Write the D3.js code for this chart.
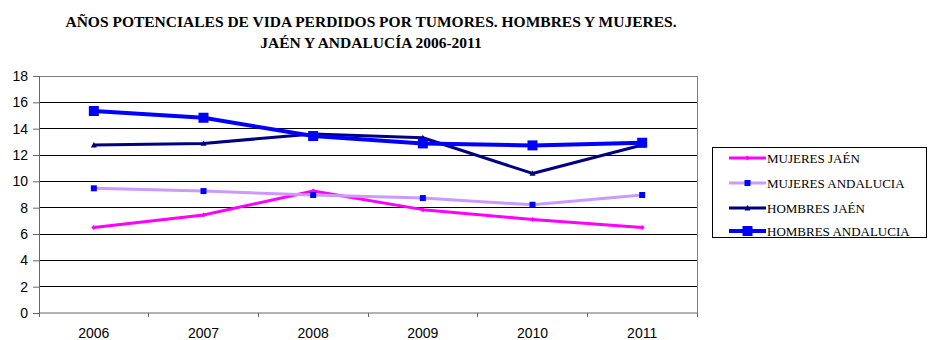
<!DOCTYPE html>
<html>
<head>
<meta charset="utf-8">
<script src="https://cdn.jsdelivr.net/npm/d3@7"></script>
<style>
  html, body { margin: 0; padding: 0; background: #fff; }
  svg { display: block; }
</style>
</head>
<body>
<svg id="chart" width="928" height="340"></svg>
<script>
const years = ["2006", "2007", "2008", "2009", "2010", "2011"];
const yTicks = [0, 2, 4, 6, 8, 10, 12, 14, 16, 18];

const mujeresJaen = [6.5, 7.44, 9.26, 7.85, 7.11, 6.5];
const mujeresAndalucia = [9.47, 9.26, 8.96, 8.73, 8.22, 8.96];
const hombresJaen = [12.76, 12.88, 13.6, 13.31, 10.6, 12.76];
const hombresAndalucia = [15.34, 14.83, 13.44, 12.88, 12.73, 12.93];

const seriesNames = ["MUJERES JAÉN", "MUJERES ANDALUCIA", "HOMBRES JAÉN", "HOMBRES ANDALUCIA"];

const series = [
  { name: seriesNames[0], values: mujeresJaen, color: "#FF00FF", width: 3, marker: "diamond", mColor: "#FF00FF", mSize: 5 },
  { name: seriesNames[1], values: mujeresAndalucia, color: "#CC99FF", width: 3, marker: "square", mColor: "#0000FF", mSize: 6 },
  { name: seriesNames[2], values: hombresJaen, color: "#000080", width: 3, marker: "triangle", mColor: "#000080", mSize: 6 },
  { name: seriesNames[3], values: hombresAndalucia, color: "#0000FF", width: 4, marker: "square", mColor: "#0000FF", mSize: 10 }
];

const svg = d3.select("#chart");
const plot = { left: 39, top: 76, right: 697, bottom: 313 };

const x = d3.scaleBand().domain(years).range([plot.left, plot.right]);
const y = d3.scaleLinear().domain([0, 18]).range([plot.bottom, plot.top]);

// Title
const title = svg.append("text")
  .attr("text-anchor", "middle")
  .attr("font-family", "'Liberation Serif', 'Times New Roman', serif")
  .attr("font-weight", "bold")
  .attr("font-size", 15.5)
  .attr("fill", "#000");
title.append("tspan").attr("x", 371).attr("y", 27)
  .text("AÑOS POTENCIALES DE VIDA PERDIDOS POR TUMORES. HOMBRES Y MUJERES.");
title.append("tspan").attr("x", 371).attr("y", 48)
  .text("JAÉN Y ANDALUCÍA 2006-2011");

// Gridlines
svg.append("g")
  .selectAll("line")
  .data(yTicks.filter(d => d > 0 && d < 18))
  .join("line")
  .attr("x1", plot.left).attr("x2", plot.right)
  .attr("y1", d => y(d)).attr("y2", d => y(d))
  .attr("stroke", "#000").attr("stroke-width", 1)
  .attr("shape-rendering", "crispEdges");

// Plot area frame (top and right)
svg.append("path")
  .attr("d", `M${plot.left},${plot.top}H${plot.right}V${plot.bottom}`)
  .attr("fill", "none").attr("stroke", "#808080").attr("stroke-width", 1)
  .attr("shape-rendering", "crispEdges");

// Y axis
const yAxis = svg.append("g")
  .attr("transform", `translate(${plot.left},0)`)
  .call(d3.axisLeft(y).tickValues(yTicks).tickSize(6).tickPadding(5));
yAxis.select(".domain").attr("stroke", "#666");
yAxis.selectAll(".tick line").attr("stroke", "#666");
yAxis.selectAll("text")
  .attr("font-family", "'Liberation Sans', Arial, sans-serif")
  .attr("font-size", 14).attr("fill", "#000");

// X axis: ticks at category boundaries
const xAxis = svg.append("g")
  .attr("transform", `translate(0,${plot.bottom})`)
  .call(d3.axisBottom(x).tickSize(0).tickPadding(15));
xAxis.select(".domain").attr("stroke", "#666").attr("d", `M${plot.left},0H${plot.right}`);
xAxis.selectAll("text")
  .attr("font-family", "'Liberation Sans', Arial, sans-serif")
  .attr("font-size", 14).attr("fill", "#000");
xAxis.append("g")
  .selectAll("line")
  .data(years.concat(["end"]))
  .join("line")
  .attr("x1", (d, i) => plot.left + i * x.step())
  .attr("x2", (d, i) => plot.left + i * x.step())
  .attr("y1", 0).attr("y2", 4)
  .attr("stroke", "#666")
  .attr("shape-rendering", "crispEdges");

// Marker shapes
function markerPath(type, size) {
  const s = size / 2;
  if (type === "square") return `M${-s},${-s}H${s}V${s}H${-s}Z`;
  if (type === "diamond") return `M0,${-s}L${s},0L0,${s}L${-s},0Z`;
  if (type === "triangle") return `M0,${-s}L${s},${s * 0.8}L${-s},${s * 0.8}Z`;
  return "";
}

const line = d3.line()
  .x((d, i) => x(years[i]) + x.bandwidth() / 2)
  .y(d => y(d));

const gSeries = svg.append("g");
series.forEach(s => {
  const g = gSeries.append("g");
  g.append("path")
    .datum(s.values)
    .attr("d", line)
    .attr("fill", "none")
    .attr("stroke", s.color)
    .attr("stroke-width", s.width)
    .attr("stroke-linejoin", "round");
  g.selectAll("path.marker")
    .data(s.values)
    .join("path")
    .attr("class", "marker")
    .attr("transform", (d, i) => `translate(${x(years[i]) + x.bandwidth() / 2},${y(d)})`)
    .attr("d", markerPath(s.marker, s.mSize))
    .attr("fill", s.mColor);
});

// Legend
const legend = svg.append("g");
legend.append("rect")
  .attr("x", 712.5).attr("y", 147.5)
  .attr("width", 214).attr("height", 90)
  .attr("fill", "#fff").attr("stroke", "#000").attr("stroke-width", 1);
const legendY = [158, 183, 208, 231];
series.forEach((s, i) => {
  const g = legend.append("g").attr("transform", `translate(0,${legendY[i]})`);
  g.append("line")
    .attr("x1", 729).attr("x2", 766).attr("y1", 0).attr("y2", 0)
    .attr("stroke", s.color).attr("stroke-width", s.width);
  g.append("path")
    .attr("transform", "translate(747.5,0)")
    .attr("d", markerPath(s.marker, s.mSize))
    .attr("fill", s.mColor);
  g.append("text")
    .attr("x", 767).attr("y", 4.5)
    .attr("font-family", "'Liberation Serif', 'Times New Roman', serif")
    .attr("font-size", 13).attr("fill", "#000")
    .text(s.name);
});
</script>
</body>
</html>
